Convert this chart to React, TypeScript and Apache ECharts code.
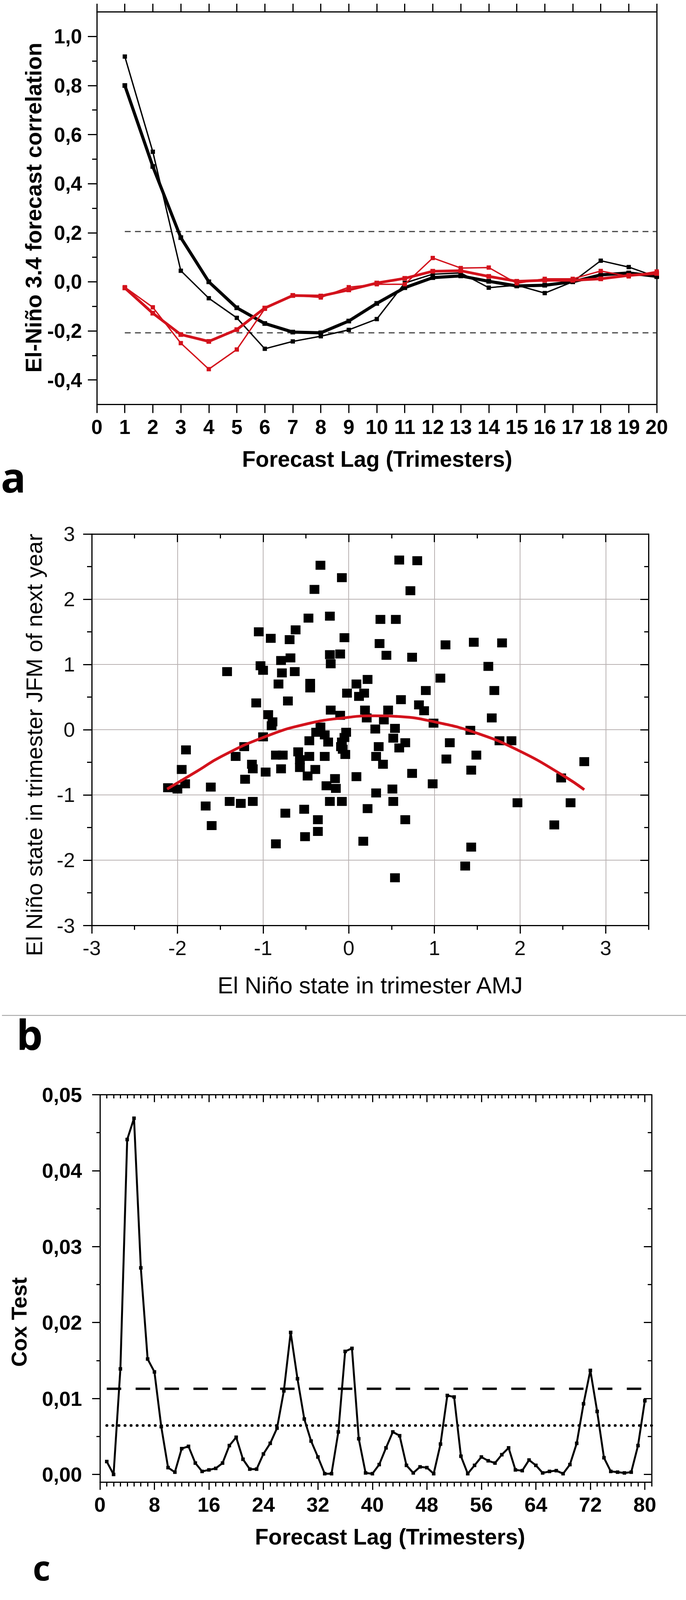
import React, { useEffect, useRef, useState } from "react";
import * as echarts from "echarts";

// ---------- Panel a: forecast correlation ----------
const lagsA = [1, 2, 3, 4, 5, 6, 7, 8, 9, 10, 11, 12, 13, 14, 15, 16, 17, 18, 19, 20];
const thickBlack = [0.8, 0.47, 0.18, 0.0, -0.106, -0.17, -0.205, -0.208, -0.16, -0.088, -0.024, 0.017, 0.024, 0.002, -0.017, -0.014, 0.0, 0.028, 0.036, 0.022];
const thinBlack = [0.918, 0.53, 0.045, -0.067, -0.147, -0.273, -0.243, -0.222, -0.196, -0.152, -0.005, 0.031, 0.036, -0.024, -0.014, -0.046, 0.0, 0.086, 0.06, 0.02];
const thickRed = [-0.025, -0.128, -0.215, -0.243, -0.195, -0.107, -0.056, -0.058, -0.033, -0.005, 0.014, 0.043, 0.045, 0.022, 0.002, 0.006, 0.006, 0.012, 0.026, 0.034];
const thinRed = [-0.022, -0.104, -0.25, -0.356, -0.276, -0.11, -0.055, -0.064, -0.022, -0.01, -0.01, 0.097, 0.056, 0.058, -0.006, 0.012, 0.012, 0.044, 0.022, 0.042];
const sigUpperA = 0.205;
const sigLowerA = -0.208;
const yMajorA = [-0.4, -0.2, 0, 0.2, 0.4, 0.6, 0.8, 1.0];
const yMinorA = [-0.3, -0.1, 0.1, 0.3, 0.5, 0.7, 0.9];

// ---------- Panel b: scatter ----------
const scatterPoints = [
  [-0.33, 2.52], [-0.08, 2.33], [0.59, 2.6], [0.8, 2.59], [-0.4, 2.15], [0.72, 2.13], [-0.47, 1.71], [-0.22, 1.74],
  [0.37, 1.69], [0.55, 1.69], [-0.62, 1.53], [-1.05, 1.5], [-0.91, 1.4], [-0.69, 1.38], [-0.05, 1.41], [0.36, 1.32],
  [1.13, 1.3], [1.46, 1.34], [1.79, 1.33], [0.44, 1.14], [0.74, 1.11], [-0.79, 1.06], [-0.68, 1.1], [-0.22, 1.15],
  [-0.1, 1.16], [-0.21, 1.01], [-1.03, 0.98], [-1.0, 0.91], [-1.42, 0.89], [-0.78, 0.87], [-0.63, 0.89], [1.63, 0.97],
  [1.07, 0.79], [-0.45, 0.71], [-0.45, 0.64], [-0.82, 0.7], [0.09, 0.7], [0.22, 0.77], [-0.02, 0.56], [0.12, 0.51],
  [0.18, 0.56], [0.9, 0.6], [1.7, 0.6], [-0.71, 0.44], [-1.08, 0.41], [0.61, 0.46], [0.82, 0.38], [-0.94, 0.23],
  [-0.89, 0.12], [-0.9, 0.06], [-0.21, 0.3], [-0.1, 0.22], [0.19, 0.3], [0.46, 0.3], [0.88, 0.29], [0.21, 0.18],
  [0.41, 0.15], [1.67, 0.18], [0.99, 0.1], [-0.33, 0.04], [-0.38, -0.04], [-0.28, -0.08], [-0.03, -0.04], [0.31, 0.01],
  [0.54, 0.02], [1.42, -0.01], [-1.0, -0.11], [-0.46, -0.17], [-0.24, -0.19], [-0.08, -0.19], [-0.05, -0.12], [0.52, -0.13],
  [0.66, -0.2], [0.59, -0.28], [1.18, -0.2], [1.76, -0.17], [1.9, -0.17], [-1.22, -0.26], [-1.9, -0.31], [-0.09, -0.26],
  [-0.07, -0.3], [0.35, -0.26], [-0.59, -0.34], [-1.32, -0.41], [-0.85, -0.39], [-0.77, -0.39], [-0.28, -0.41], [-0.46, -0.41],
  [-0.04, -0.38], [0.32, -0.41], [1.49, -0.39], [1.14, -0.45], [-0.57, -0.46], [0.4, -0.53], [-1.13, -0.53], [-1.12, -0.6],
  [-1.95, -0.61], [-0.79, -0.6], [-0.57, -0.58], [-0.39, -0.61], [-0.97, -0.65], [1.43, -0.62], [0.74, -0.67], [-0.48, -0.71],
  [0.09, -0.72], [-1.21, -0.76], [-0.16, -0.75], [-1.91, -0.83], [0.98, -0.83], [2.48, -0.74], [-0.26, -0.86], [-0.15, -0.9],
  [-2.11, -0.89], [-2.0, -0.91], [-1.61, -0.88], [0.51, -0.91], [0.32, -0.97], [-1.39, -1.1], [-1.26, -1.13], [-1.12, -1.1],
  [-0.22, -1.1], [-0.08, -1.1], [0.52, -1.1], [1.97, -1.12], [2.59, -1.12], [-1.67, -1.17], [-0.52, -1.22], [0.22, -1.21],
  [-0.74, -1.28], [-0.36, -1.38], [0.66, -1.38], [-1.6, -1.47], [2.4, -1.46], [-0.36, -1.56], [-0.51, -1.64], [-0.85, -1.75],
  [0.17, -1.71], [1.43, -1.8], [1.36, -2.09], [0.54, -2.27], [2.75, -0.49],
];
const fitCurve = [
  [-2.12, -0.91], [-1.75, -0.62], [-1.5, -0.42], [-1.0, -0.12], [-0.5, 0.085], [0.0, 0.19], [0.3, 0.213],
  [0.6, 0.2], [1.0, 0.12], [1.5, -0.055], [2.0, -0.33], [2.5, -0.7], [2.75, -0.92],
];
const intTicksB = [-3, -2, -1, 0, 1, 2, 3];
const halfTicksB = [-2.5, -1.5, -0.5, 0.5, 1.5, 2.5, 3.5];

// ---------- Panel c: Cox test ----------
const coxValues = [
  0.0017, 0.0, 0.0139, 0.0441, 0.0469, 0.0272, 0.0152, 0.0135, 0.0063, 0.0009,
  0.0003, 0.0034, 0.0037, 0.0015, 0.0004, 0.0006, 0.0008, 0.0015, 0.0038, 0.0049,
  0.002, 0.0007, 0.0007, 0.0027, 0.0041, 0.0061, 0.011, 0.0187, 0.0126, 0.0073,
  0.0044, 0.0023, 0.0001, 0.0001, 0.0056, 0.0162, 0.0166, 0.0047, 0.0002, 0.0001,
  0.0013, 0.0035, 0.0056, 0.0051, 0.0012, 0.0002, 0.001, 0.0009, 0.0001, 0.004,
  0.0104, 0.0102, 0.0024, 0.0001, 0.0012, 0.0023, 0.0018, 0.0015, 0.0026, 0.0035,
  0.0006, 0.0005, 0.0019, 0.0012, 0.0002, 0.0004, 0.0005, 0.0001, 0.0013, 0.0041,
  0.0093, 0.0137, 0.0083, 0.0022, 0.0004, 0.0003, 0.0002, 0.0003, 0.0038, 0.0097,
];
const dashedC = 0.01128;
const dottedC = 0.00645;
const xMajorC = [0, 8, 16, 24, 32, 40, 48, 56, 64, 72, 80];
const xMinorC = [1, 2, 3, 4, 5, 6, 7, 9, 10, 11, 12, 13, 14, 15, 17, 18, 19, 20, 21, 22, 23, 25, 26, 27, 28, 29, 30, 31, 33, 34, 35, 36, 37, 38, 39, 41, 42, 43, 44, 45, 46, 47, 49, 50, 51, 52, 53, 54, 55, 57, 58, 59, 60, 61, 62, 63, 65, 66, 67, 68, 69, 70, 71, 73, 74, 75, 76, 77, 78, 79, 81];
const yMajorC = [0, 0.01, 0.02, 0.03, 0.04, 0.05];
const yMinorC = [0.005, 0.015, 0.025, 0.035, 0.045];

const W = 1757;
const H = 4300;
const RED = "#d3121c";
const FONT = '"Liberation Sans", Arial, Helvetica, sans-serif';
const LETTER_FONT = '"Open Sans", Lato, sans-serif';
const BLACK_LINE = { color: "#000", width: 3 };

function axisBase(extra: any) {
  return {
    type: "value",
    axisLine: { show: false, onZero: false, lineStyle: BLACK_LINE },
    axisTick: { show: false },
    axisLabel: { show: false },
    splitLine: { show: false },
    ...extra,
  };
}

function tickOnly(gridIndex: number, position: string, min: number, max: number, values: number[], length: number, inside: boolean, withLine: boolean) {
  return axisBase({
    gridIndex,
    position,
    min,
    max,
    axisLine: { show: withLine, onZero: false, lineStyle: BLACK_LINE },
    axisTick: { show: true, inside, length, customValues: values, lineStyle: BLACK_LINE },
  });
}

// k: vertical fit factor, so the whole 4300px-tall layout fits the visible page height
function buildOption(k: number) {
  const sy = (v: number) => v * k;
  const fs = (v: number) => Math.round(v * (0.5 + 0.5 * k) * 10) / 10;
  const labelBold = { color: "#000", fontFamily: FONT, fontWeight: "bold" };
  const xAxis: any[] = [
    axisBase({
      gridIndex: 0, position: "bottom", min: 0, max: 20, interval: 1,
      axisLine: { show: true, onZero: false, lineStyle: BLACK_LINE },
      axisTick: { show: true, length: sy(23), lineStyle: BLACK_LINE },
      axisLabel: { show: true, margin: sy(33), fontSize: fs(53), ...labelBold },
    }),
    axisBase({
      gridIndex: 0, position: "top", min: 0, max: 20, interval: 1,
      axisLine: { show: true, onZero: false, lineStyle: BLACK_LINE },
      axisTick: { show: true, length: sy(22), lineStyle: BLACK_LINE },
    }),
    axisBase({
      gridIndex: 1, position: "bottom", min: -3, max: 3.5, interval: 1,
      axisLine: { show: true, onZero: false, lineStyle: BLACK_LINE },
      axisTick: { show: true, length: sy(22), customValues: intTicksB, lineStyle: BLACK_LINE },
      axisLabel: { show: true, margin: sy(33), fontSize: fs(54), color: "#111", fontFamily: FONT, customValues: intTicksB },
      splitLine: { show: true, lineStyle: { color: "#b9b2b2", width: 2 } },
    }),
    tickOnly(1, "bottom", -3, 3.5, halfTicksB, sy(12), false, false),
    tickOnly(1, "top", -3, 3.5, intTicksB, sy(22), true, true),
    tickOnly(1, "top", -3, 3.5, halfTicksB, sy(12), true, false),
    axisBase({
      gridIndex: 2, position: "bottom", min: 0, max: 81,
      axisLine: { show: true, onZero: false, lineStyle: BLACK_LINE },
      axisTick: { show: true, length: sy(21), customValues: xMajorC, lineStyle: BLACK_LINE },
      axisLabel: { show: true, margin: sy(33), fontSize: fs(54), customValues: xMajorC, ...labelBold },
    }),
    tickOnly(2, "bottom", 0, 81, xMinorC, sy(12), false, false),
    tickOnly(2, "top", 0, 81, xMajorC, sy(20), true, true),
    tickOnly(2, "top", 0, 81, xMinorC, sy(10), true, false),
  ];

  const yAxis: any[] = [
    axisBase({
      gridIndex: 0, position: "left", min: -0.5, max: 1.1,
      axisLine: { show: true, onZero: false, lineStyle: BLACK_LINE },
      axisTick: { show: true, length: 23, customValues: yMajorA, lineStyle: BLACK_LINE },
      axisLabel: {
        show: true, margin: 38, fontSize: fs(53), customValues: yMajorA, ...labelBold,
        formatter: (v: number) => v.toFixed(1).replace(".", ","),
      },
    }),
    tickOnly(0, "left", -0.5, 1.1, yMinorA, 12, false, false),
    axisBase({
      gridIndex: 0, position: "right", min: -0.5, max: 1.1,
      axisLine: { show: true, onZero: false, lineStyle: BLACK_LINE },
    }),
    axisBase({
      gridIndex: 1, position: "left", min: -3, max: 3, interval: 1,
      axisLine: { show: true, onZero: false, lineStyle: BLACK_LINE },
      axisTick: { show: true, length: 22, lineStyle: BLACK_LINE },
      minorTick: { show: true, splitNumber: 2, length: 12, lineStyle: BLACK_LINE },
      axisLabel: { show: true, margin: 43, fontSize: fs(54), color: "#111", fontFamily: FONT },
      splitLine: { show: true, lineStyle: { color: "#b9b2b2", width: 2 } },
    }),
    axisBase({
      gridIndex: 1, position: "right", min: -3, max: 3, interval: 1,
      axisLine: { show: true, onZero: false, lineStyle: BLACK_LINE },
      axisTick: { show: true, inside: true, length: 21, lineStyle: BLACK_LINE },
      minorTick: { show: true, splitNumber: 2, length: 11, lineStyle: BLACK_LINE },
    }),
    axisBase({
      gridIndex: 2, position: "left", min: -0.001, max: 0.05,
      axisLine: { show: true, onZero: false, lineStyle: BLACK_LINE },
      axisTick: { show: true, length: 20, customValues: yMajorC, lineStyle: BLACK_LINE },
      axisLabel: {
        show: true, margin: 46, fontSize: fs(54), customValues: yMajorC, ...labelBold,
        formatter: (v: number) => v.toFixed(2).replace(".", ","),
      },
    }),
    tickOnly(2, "left", -0.001, 0.05, yMinorC, 9, false, false),
    tickOnly(2, "right", -0.001, 0.05, yMajorC, 20, true, true),
    tickOnly(2, "right", -0.001, 0.05, yMinorC, 10, true, false),
  ];

  const pairs = (ys: number[]) => lagsA.map((x, i) => [x, ys[i]]);
  const series: any[] = [
    {
      type: "line", xAxisIndex: 0, yAxisIndex: 0, data: [[1, sigUpperA], [20, sigUpperA]], symbol: "none",
      lineStyle: { color: "#444", width: 3, type: [15, 11] }, z: 1, silent: true,
    },
    {
      type: "line", xAxisIndex: 0, yAxisIndex: 0, data: [[1, sigLowerA], [20, sigLowerA]], symbol: "none",
      lineStyle: { color: "#444", width: 3, type: [15, 11] }, z: 1, silent: true,
    },
    {
      type: "line", xAxisIndex: 0, yAxisIndex: 0, data: pairs(thinBlack), symbol: "rect", symbolSize: 11,
      itemStyle: { color: "#000" }, lineStyle: { color: "#000", width: 3.5 }, z: 3,
    },
    {
      type: "line", xAxisIndex: 0, yAxisIndex: 0, data: pairs(thickBlack), symbol: "rect", symbolSize: 12,
      itemStyle: { color: "#000" }, lineStyle: { color: "#000", width: 8 }, z: 3,
    },
    {
      type: "line", xAxisIndex: 0, yAxisIndex: 0, data: pairs(thinRed), symbol: "rect", symbolSize: 11,
      itemStyle: { color: RED }, lineStyle: { color: RED, width: 3.5 }, z: 4,
    },
    {
      type: "line", xAxisIndex: 0, yAxisIndex: 0, data: pairs(thickRed), symbol: "rect", symbolSize: 12,
      itemStyle: { color: RED }, lineStyle: { color: RED, width: 7 }, z: 4,
    },
    {
      type: "scatter", xAxisIndex: 2, yAxisIndex: 3, data: scatterPoints, symbol: "rect", symbolSize: [25, 23],
      itemStyle: { color: "#000", opacity: 1 }, z: 3,
    },
    {
      type: "line", xAxisIndex: 2, yAxisIndex: 3, data: fitCurve, smooth: true, symbol: "none",
      lineStyle: { color: RED, width: 7 }, z: 4,
    },
    {
      type: "line", xAxisIndex: 6, yAxisIndex: 5, data: [[1, dashedC], [81, dashedC]], symbol: "none",
      lineStyle: { color: "#000", width: 6, type: [37, 37] }, z: 2, silent: true,
    },
    {
      type: "line", xAxisIndex: 6, yAxisIndex: 5, data: [[1, dottedC], [81, dottedC]], symbol: "none",
      lineStyle: { color: "#000", width: 7, type: [0.5, 15], cap: "round" }, z: 2, silent: true,
    },
    {
      type: "line", xAxisIndex: 6, yAxisIndex: 5, data: coxValues.map((v, i) => [i + 1, v]), symbol: "rect",
      symbolSize: 9, itemStyle: { color: "#000" }, lineStyle: { color: "#000", width: 5 }, z: 3,
    },
  ];

  const titleText = (text: string, x: number, y: number, size: number, bold: boolean, rotate: boolean) => ({
    type: "text", x, y: sy(y), rotation: rotate ? Math.PI / 2 : 0, silent: true,
    style: {
      text, fill: "#000", fontSize: rotate ? size * k : fs(size), fontWeight: bold ? "bold" : "normal", fontFamily: FONT,
      align: "center", verticalAlign: "middle",
    },
  });
  const letter = (text: string, x: number, y: number, size: number) => ({
    type: "text", x, y: sy(y), silent: true,
    style: { text, fill: "#000", fontSize: size * k, fontWeight: "bold", fontFamily: LETTER_FONT, align: "left", verticalAlign: "middle" },
  });

  const graphic: any[] = [
    titleText("El-Niño 3.4 forecast correlation", 86, 558, 60, true, true),
    titleText("Forecast Lag (Trimesters)", 966, 1234, 58, true, false),
    titleText("El Niño state in trimester JFM of next year", 87, 2002, 61, false, true),
    titleText("El Niño state in trimester AMJ", 948, 2648, 61, false, false),
    titleText("Cox Test", 49, 3553, 58, true, true),
    titleText("Forecast Lag (Trimesters)", 999, 4130, 58, true, false),
    letter("a", 2, 1280, 112),
    letter("b", 42, 2778, 112),
    letter("c", 84, 4212, 92),
    {
      type: "line", silent: true,
      shape: { x1: 5, y1: sy(2729), x2: W, y2: sy(2729) },
      style: { stroke: "#9a9a9a", lineWidth: 2 },
    },
  ];

  return {
    animation: false,
    backgroundColor: "#fff",
    grid: [
      { left: 248, top: sy(32), width: 1434, height: sy(1055) },
      { left: 235, top: sy(1435), width: 1426, height: sy(1052) },
      { left: 256, top: sy(2942), width: 1413, height: sy(1041) },
    ],
    xAxis,
    yAxis,
    series,
    graphic,
  };
}

function fitFactor() {
  const vh = typeof window !== "undefined" ? window.innerHeight : H;
  return Math.min(1, vh / H);
}

export default function App() {
  const ref = useRef<HTMLDivElement>(null);
  const [k] = useState(fitFactor);
  const h = Math.floor(H * k);
  useEffect(() => {
    if (!ref.current) return;
    const chart = echarts.init(ref.current, null, { renderer: "svg", width: W, height: h });
    chart.setOption(buildOption(k) as any);
    return () => chart.dispose();
  }, [k, h]);
  return (
    <div
      ref={ref}
      style={{ position: "absolute", left: 0, top: 0, width: W, height: h, background: "#fff" }}
    />
  );
}
